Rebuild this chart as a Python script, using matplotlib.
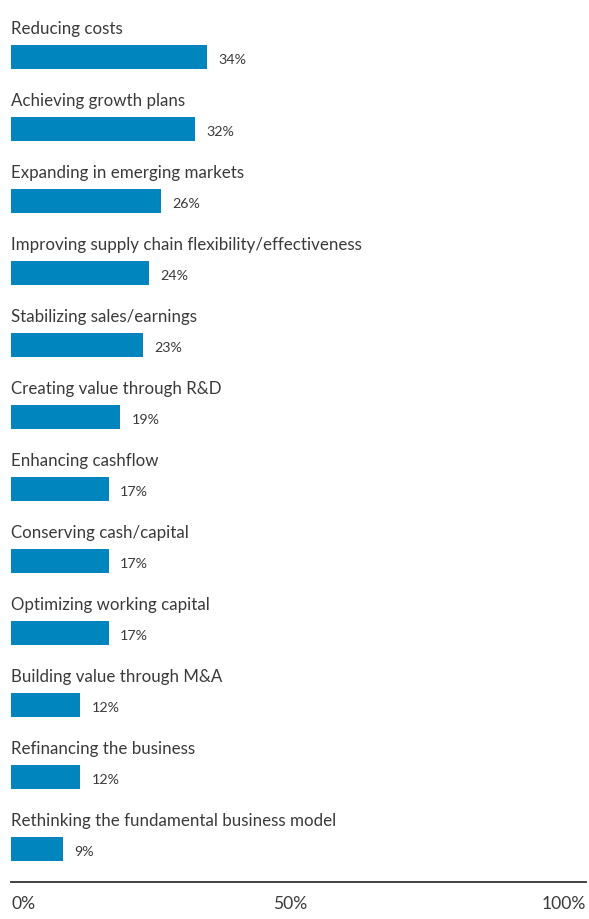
import matplotlib
matplotlib.use("Agg")
import matplotlib.pyplot as plt

categories = [
    "Reducing costs",
    "Achieving growth plans",
    "Expanding in emerging markets",
    "Improving supply chain flexibility/effectiveness",
    "Stabilizing sales/earnings",
    "Creating value through R&D",
    "Enhancing cashflow",
    "Conserving cash/capital",
    "Optimizing working capital",
    "Building value through M&A",
    "Refinancing the business",
    "Rethinking the fundamental business model",
]
values = [34, 32, 26, 24, 23, 19, 17, 17, 17, 12, 12, 9]
tick_values = [0, 50, 100]
tick_labels = ["0%", "50%", "100%"]

W, H = 589, 920
fig = plt.figure(figsize=(W / 100, H / 100), dpi=100)
plt.rcParams['font.family'] = ['Lato', 'DejaVu Sans']

x0, x1 = 11, 586
bottom_px = 883
ax = fig.add_axes([x0 / W, (H - bottom_px) / H, (x1 - x0) / W, bottom_px / H])
n = len(categories)
ax.set_xlim(0, 100)
top_data = -58 / 72
bot_data = (n - 1) + (bottom_px - 850) / 72
ax.set_ylim(bot_data, top_data)

color = "#0085BF"
txt = "#3a3a3a"
ys = list(range(n))
ax.barh(ys, values, height=24 / 72, color=color, align='center')
for y, v, c in zip(ys, values, categories):
    ax.text(0, y - 0.405, c, fontsize=12.2, color=txt, va='center', ha='left')
    ax.text(v + 2.0, y + 0.03, f"{v}%", fontsize=10.3, color=txt, va='center', ha='left')

for s in ['top', 'right', 'left']:
    ax.spines[s].set_visible(False)
ax.spines['bottom'].set_color('#333333')
ax.spines['bottom'].set_linewidth(1.3)
ax.set_yticks([])
ax.set_xticks(tick_values)
ax.set_xticklabels([])
ax.tick_params(axis='x', length=0)
label_offsets = [0, -1.5, 0]
for tv, tl, ha, off in zip(tick_values, tick_labels, ['left', 'center', 'right'], label_offsets):
    ax.text(tv + off, bot_data + 21 / 72, tl, fontsize=12.6, color=txt, ha=ha, va='center')

fig.savefig("out.png", dpi=100)
